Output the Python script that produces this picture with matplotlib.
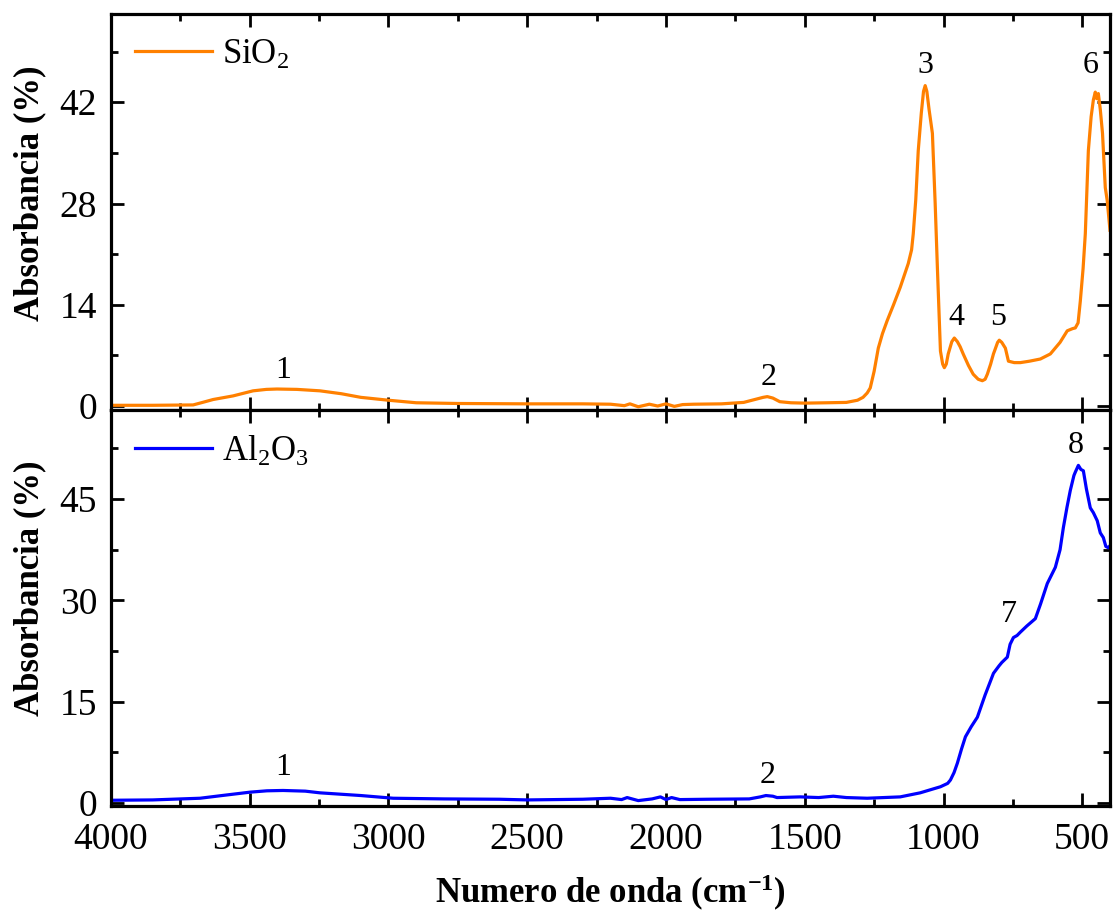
import numpy as np
import matplotlib
matplotlib.use('Agg')
import matplotlib.pyplot as plt
from matplotlib.ticker import MultipleLocator

plt.rcParams['font.family'] = ['Liberation Serif', 'DejaVu Serif']
plt.rcParams['mathtext.fontset'] = 'custom'
plt.rcParams['mathtext.rm'] = 'Liberation Serif'
plt.rcParams['mathtext.it'] = 'Liberation Serif:italic'
plt.rcParams['mathtext.bf'] = 'Liberation Serif:bold'

# espectro SiO2
wn_si = [4000, 3850, 3704, 3670, 3632, 3560, 3488, 3440, 3402, 3330, 3247, 3170, 3100, 3000, 2900,
         2750, 2500, 2300, 2200, 2150, 2130, 2100, 2060, 2030, 2000, 1970, 1940, 1900,
         1800, 1720, 1680, 1650, 1635, 1615, 1590, 1550, 1500, 1420, 1350, 1310, 1290, 1275, 1264, 1250, 1235,
         1220, 1203, 1180, 1156, 1127, 1115, 1109, 1100, 1091, 1080, 1072, 1066, 1060, 1052, 1040, 1030, 1022,
         1011, 1003, 997, 990, 983, 970, 961, 950, 940, 929, 910, 893, 875, 860, 850, 842, 830, 820, 805, 799, 790,
         777, 766, 745, 723, 690, 651, 615, 580, 554, 535,
         525, 515, 507, 497, 489, 478, 468, 460, 453, 448, 442, 435, 427, 417, 410, 400]
ab_si = [0.1, 0.1, 0.15, 0.5, 0.9, 1.4, 2.1, 2.3, 2.35, 2.3, 2.1, 1.7, 1.2, 0.8, 0.45,
         0.35, 0.3, 0.3, 0.25, 0.05, 0.3, -0.1, 0.25, 0.0, 0.3, -0.05, 0.2, 0.25,
         0.3, 0.5, 0.9, 1.2, 1.3, 1.1, 0.6, 0.45, 0.4, 0.45, 0.5, 0.8, 1.2, 1.8, 2.5, 4.8, 8.0,
         10.0, 11.8, 14.0, 16.4, 19.7, 21.6, 23.8, 28.5, 35.3, 40.5, 43.5, 44.3, 43.5, 41.0, 37.7, 28.0, 19.1,
         7.6, 5.8, 5.3, 5.8, 7.2, 8.9, 9.4, 8.9, 8.2, 7.2, 5.6, 4.4, 3.7, 3.5, 3.7, 4.4, 5.8, 7.2, 8.8, 9.1, 8.8,
         8.0, 6.2, 6.0, 6.0, 6.2, 6.5, 7.2, 8.8, 10.4, 10.7,
         10.8, 11.5, 14.5, 19.0, 23.8, 35.3, 40.0, 42.3, 43.4, 42.5, 43.2, 41.0, 37.7, 30.2, 28.4, 24.3]

# espectro Al2O3
wn_al = [4000, 3850, 3679, 3600, 3499, 3438, 3380, 3300, 3247, 3100, 2983, 2800, 2600,
         2500, 2300, 2200, 2160, 2140, 2100, 2050, 2020, 2000, 1980, 1950, 1850, 1700,
         1660, 1640, 1615, 1600, 1516, 1450, 1397, 1350, 1275, 1156, 1084, 1011, 985, 975, 962, 950, 935, 921,
         900, 878, 850, 820, 800, 790, 770, 760, 748, 735, 723, 700, 669, 650, 626, 597, 580, 568, 555, 543,
         530, 525, 514, 505, 496, 485, 471, 460, 446, 435, 424, 415, 406, 400]
ab_al = [0.4, 0.45, 0.7, 1.1, 1.6, 1.8, 1.85, 1.75, 1.5, 1.1, 0.7, 0.6, 0.55,
         0.45, 0.55, 0.7, 0.5, 0.8, 0.35, 0.6, 0.9, 0.5, 0.8, 0.5, 0.55, 0.6,
         0.9, 1.1, 1.0, 0.8, 0.9, 0.8, 1.0, 0.8, 0.7, 0.9, 1.5, 2.4, 2.9, 3.4, 4.5, 5.9, 8.0, 9.8,
         11.3, 12.7, 16.0, 19.2, 20.3, 20.8, 21.6, 23.5, 24.5, 24.8, 25.3, 26.2, 27.3, 29.5, 32.5, 34.9, 37.5, 40.8, 43.8, 46.3,
         48.5, 49.0, 50.0, 49.4, 49.2, 46.5, 43.7, 43.0, 41.8, 40.0, 39.3, 38.0, 37.8, 38.1]

# etiquetas de picos: (numero de onda, absorbancia, texto)
pk_si_x = [3380, 1630, 1066, 954, 802, 470]
pk_si_y = [4.9, 3.9, 47.1, 12.3, 12.3, 47.1]
pk_si_t = ['1', '2', '3', '4', '5', '6']
pk_al_x = [3380, 1635, 766, 525]
pk_al_y = [5.2, 4.1, 27.9, 52.9]
pk_al_t = ['1', '2', '7', '8']

fig, (ax1, ax2) = plt.subplots(2, 1, sharex=True, figsize=(11.13, 9.16), dpi=100)
fig.subplots_adjust(left=111/1113, right=1110/1113, top=1-14/916, bottom=1-806/916, hspace=0)

ax1.plot(wn_si, ab_si, color='#ff8000', lw=2.3, label='SiO$_2$')
ax2.plot(wn_al, ab_al, color='#0000ff', lw=2.3, label='Al$_2$O$_3$')

for x, y, t in zip(pk_si_x, pk_si_y, pk_si_t):
    ax1.text(x, y, t, ha='center', va='center', fontsize=23)
for x, y, t in zip(pk_al_x, pk_al_y, pk_al_t):
    ax2.text(x, y, t, ha='center', va='center', fontsize=23)

ax1.set_ylim(-0.55, 54.2)
ax1.yaxis.set_major_locator(MultipleLocator(14))
ax1.yaxis.set_minor_locator(MultipleLocator(7))
ax2.set_ylim(-0.45, 58.2)
ax2.yaxis.set_major_locator(MultipleLocator(15))
ax2.yaxis.set_minor_locator(MultipleLocator(7.5))
ax2.set_xlim(4000, 400)
ax2.xaxis.set_major_locator(MultipleLocator(500))
ax2.xaxis.set_minor_locator(MultipleLocator(250))

for ax in (ax1, ax2):
    for s in ax.spines.values():
        s.set_linewidth(2.3)
    ax.tick_params(which='both', direction='in', top=True, right=True, width=2.0)
    ax.tick_params(which='major', length=9.5, labelsize=27)
    ax.tick_params(which='minor', length=5)
    ax.tick_params(axis='y', pad=10)
    ax.tick_params(axis='x', pad=12)
    ax.legend(loc='upper left', frameon=False, fontsize=25, handlelength=2.2,
              handletextpad=0.3, borderaxespad=0.3, bbox_to_anchor=(0.0, 1.0))
    ax.set_ylabel('Absorbancia (%)', fontsize=25, fontweight='bold')

ax1.yaxis.set_label_coords(-0.065, 0.547)
ax2.yaxis.set_label_coords(-0.065, 0.549)
ax2.set_xlabel('Numero de onda (cm$^{\\mathbf{-1}}$)', fontsize=25, fontweight='bold', labelpad=11)

plt.savefig('out.png', dpi=100)
